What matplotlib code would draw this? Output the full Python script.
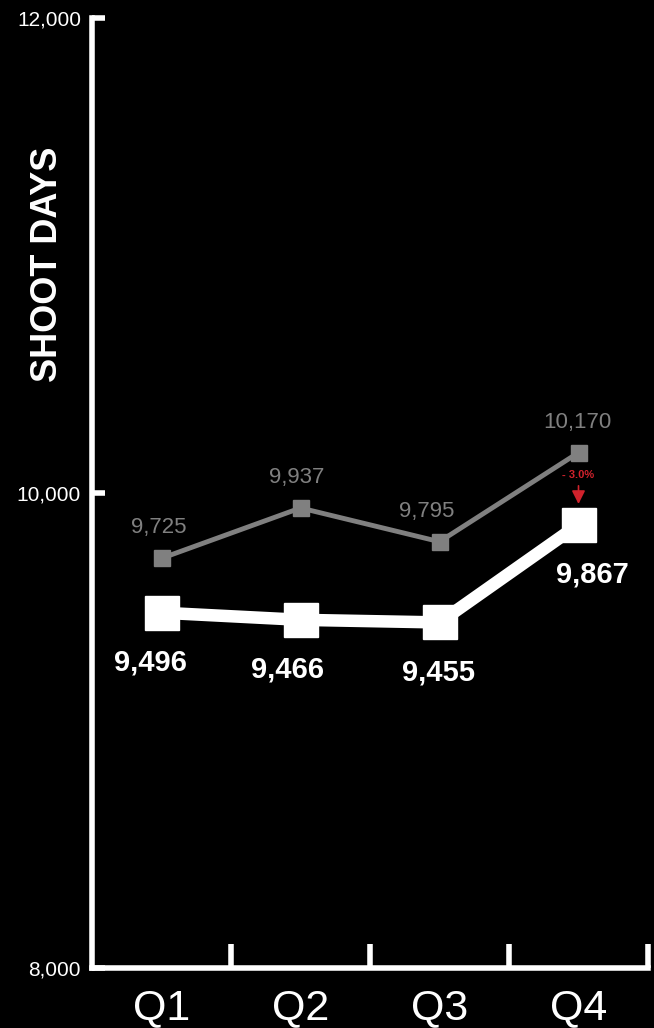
import matplotlib
matplotlib.use("Agg")
import matplotlib.pyplot as plt
from matplotlib import font_manager as fm

names = {f.name for f in fm.fontManager.ttflist}
NARROW = 'Liberation Sans Narrow' if 'Liberation Sans Narrow' in names else 'Liberation Sans'
FAM = [NARROW, 'DejaVu Sans']

quarters = ["Q1", "Q2", "Q3", "Q4"]
prev_year = [9725, 9937, 9795, 10170]
curr_year = [9496, 9466, 9455, 9867]
yticks = [8000, 10000, 12000]
change_label = "- 3.0%"

# label nudges (points)
prev_dx = [-2, -3, -9, -1]
curr_dx = [-8, -9, -1, 10]

fig = plt.figure(figsize=(6.54, 10.28), dpi=100, facecolor='black')
ax = fig.add_axes([92/654, 60/1028, (648-92)/654, (968-18)/1028])
ax.set_facecolor('black')

x = list(range(len(quarters)))
ax.plot(x, prev_year, color='#808080', lw=3.5, marker='s', ms=12, zorder=3)
ax.plot(x, curr_year, color='white', lw=9, marker='s', ms=24, zorder=4)

for xi, v, dx in zip(x, prev_year, prev_dx):
    ax.annotate(f"{v:,}", (xi, v), xytext=(dx, 22), textcoords='offset points',
                ha='center', va='center', color='#808080', fontsize=16, family=FAM)
for xi, v, dx in zip(x, curr_year, curr_dx):
    ax.annotate(f"{v:,}", (xi, v), xytext=(dx, -36), textcoords='offset points',
                ha='center', va='center', color='white', fontsize=21,
                fontweight='bold', family=FAM)

# change annotation
ax.annotate('', xy=(3, curr_year[3] + 75), xytext=(3, curr_year[3] + 175),
            arrowprops=dict(arrowstyle='-|>', color='#d0222c', lw=1.2,
                            mutation_scale=20), zorder=5)
ax.text(3, curr_year[3] + 208, change_label, ha='center', va='center',
        color='#d0222c', fontsize=8, fontweight='bold', family=FAM)

ax.set_xlim(-0.5, 3.5)
ax.set_ylim(8000, 12000)

for s in ['top', 'right']:
    ax.spines[s].set_visible(False)
for s in ['left', 'bottom']:
    ax.spines[s].set_color('white')
    ax.spines[s].set_linewidth(4)

ax.set_yticks(yticks)
ax.set_yticklabels([f"{t:,}" for t in yticks], color='white', fontsize=15, family=FAM)
ax.tick_params(axis='y', direction='in', length=9, width=4, color='white', pad=8)

ax.set_xticks([0.5, 1.5, 2.5, 3.5])
ax.set_xticklabels([])
ax.tick_params(axis='x', direction='in', length=17, width=4, color='white')
for xi, q in zip(x, quarters):
    ax.text(xi, -0.021, q, transform=ax.get_xaxis_transform(), ha='center', va='top',
            color='white', fontsize=31, family=FAM)

fig.text(48/654, 1 - 264/1028, "SHOOT DAYS", rotation=90, ha='center', va='center',
         color='white', fontsize=26, fontweight='bold', family=FAM)

fig.savefig('out.png', dpi=100, facecolor='black')
